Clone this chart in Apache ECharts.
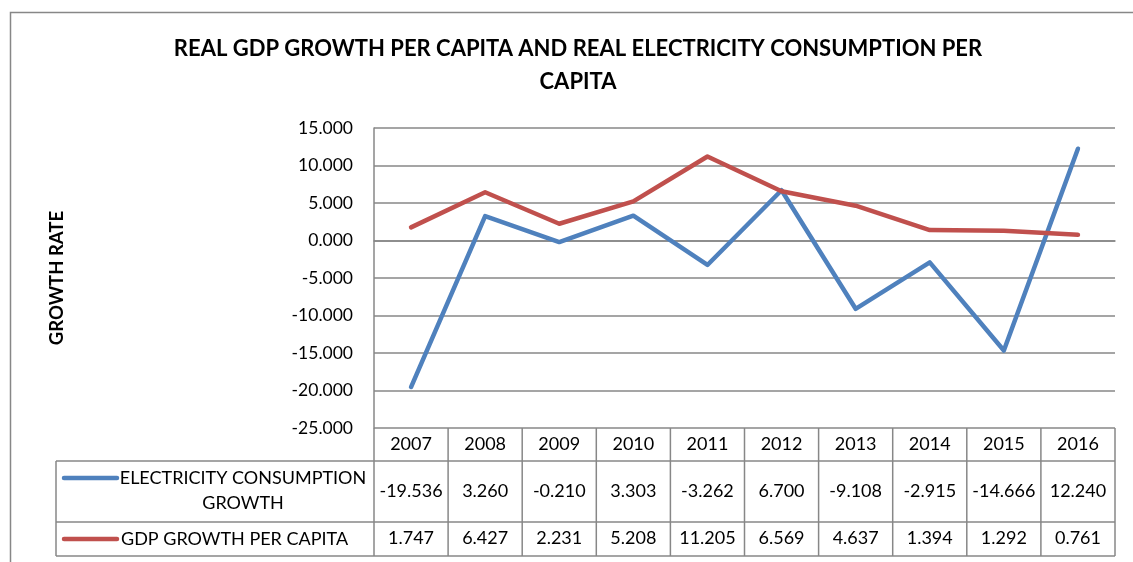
<!DOCTYPE html>
<html>
<head>
<meta charset="utf-8">
<script src="https://cdn.jsdelivr.net/npm/echarts@6/dist/echarts.min.js"></script>
<style>
  html, body { margin: 0; padding: 0; background: #fff; }
  #chart { width: 1133px; height: 562px; }
</style>
</head>
<body>
<div id="chart"></div>
<script>
// Years on the category axis
const years = ['2007', '2008', '2009', '2010', '2011', '2012', '2013', '2014', '2015', '2016'];
// Electricity consumption growth per capita (%)
const electricity = [-19.536, 3.260, -0.210, 3.303, -3.262, 6.700, -9.108, -2.915, -14.666, 12.240];
// Real GDP growth per capita (%)
const gdp = [1.747, 6.427, 2.231, 5.208, 11.205, 6.569, 4.637, 1.394, 1.292, 0.761];
// Value-axis ticks
const yTicks = { min: -25, max: 15, step: 5 };

const seriesNames = ['ELECTRICITY CONSUMPTION\nGROWTH', 'GDP GROWTH PER CAPITA'];
const colors = ['#4F81BD', '#C0504D'];

const FONT = 'Lato, "Open Sans", sans-serif';
const GRID = '#878787';
const LEFT = 374, RIGHT = 1115, TOP = 128, BOTTOM = 428;
const ROW1 = 461, ROW2 = 522, ROW3 = 556, TABLE_LEFT = 56;
const TABLE_FONT = 18;

const chart = echarts.init(document.getElementById('chart'), null, { renderer: 'canvas' });

const fmt = v => v.toFixed(3);

// extra bottom axes carry the data-table rows as labels
const tableAxis = (values, offset) => ({
  type: 'category',
  position: 'bottom',
  data: values.map(fmt),
  offset: offset,
  axisLine: { show: false },
  axisTick: { show: false },
  axisLabel: { fontFamily: FONT, fontSize: TABLE_FONT, color: '#000', margin: 0, interval: 0 },
  splitLine: { show: false }
});

const tableLine = (x1, y1, x2, y2) => ({
  type: 'line', silent: true,
  shape: { x1, y1, x2, y2 },
  style: { stroke: GRID, lineWidth: 1.5 }
});

chart.setOption({
  animation: false,
  title: {
    text: 'REAL GDP GROWTH PER CAPITA AND REAL ELECTRICITY CONSUMPTION PER\nCAPITA',
    left: 578,
    top: 32,
    padding: 0,
    textAlign: 'center',
    textStyle: { fontFamily: FONT, fontWeight: 'bold', fontSize: 22, lineHeight: 33, color: '#000' }
  },
  grid: { left: LEFT, right: 1133 - RIGHT, top: TOP, bottom: 562 - BOTTOM, containLabel: false },
  xAxis: [
    {
      type: 'category',
      data: years,
      boundaryGap: true,
      axisLine: { show: true, lineStyle: { color: GRID, width: 1.5 } },
      axisTick: { show: false },
      axisLabel: { fontFamily: FONT, fontSize: TABLE_FONT, color: '#000', margin: 7, interval: 0 }
    },
    tableAxis(electricity, ROW1 - BOTTOM + 21),
    tableAxis(gdp, ROW2 - BOTTOM + 7)
  ],
  yAxis: {
    type: 'value',
    min: yTicks.min,
    max: yTicks.max,
    interval: yTicks.step,
    name: 'GROWTH RATE',
    nameLocation: 'middle',
    nameRotate: 90,
    nameGap: 307,
    nameTextStyle: { fontFamily: FONT, fontWeight: 'bold', fontSize: 18.5, color: '#000' },
    axisLine: { show: true, lineStyle: { color: GRID, width: 1.5 } },
    axisTick: { show: false },
    axisLabel: { fontFamily: FONT, fontSize: 17.5, color: '#000', margin: 21, formatter: fmt },
    splitLine: { show: true, lineStyle: { color: GRID, width: 1.5 } }
  },
  series: [
    {
      name: seriesNames[0], type: 'line', data: electricity, xAxisIndex: 0,
      symbol: 'none', color: colors[0],
      lineStyle: { width: 4.5, color: colors[0], cap: 'round', join: 'round' }
    },
    {
      name: seriesNames[1], type: 'line', data: gdp, xAxisIndex: 0,
      symbol: 'none', color: colors[1],
      lineStyle: { width: 4.5, color: colors[1], cap: 'round', join: 'round' }
    }
  ]
});

// Data table frame: column boundaries follow the category bands of the x axis
const c0 = chart.convertToPixel({ xAxisIndex: 0 }, 0);
const c1 = chart.convertToPixel({ xAxisIndex: 0 }, 1);
const band = c1 - c0;
const graphics = [
  // outer chart frame
  { type: 'rect', silent: true, shape: { x: 10.5, y: 12.5, width: 1200, height: 600 }, style: { fill: 'none', stroke: GRID, lineWidth: 1.5 } },
  tableLine(TABLE_LEFT, ROW1, RIGHT, ROW1),
  tableLine(TABLE_LEFT, ROW2, RIGHT, ROW2),
  tableLine(TABLE_LEFT, ROW3, RIGHT, ROW3),
  tableLine(TABLE_LEFT, ROW1, TABLE_LEFT, ROW3),
  // legend keys inside the table
  { type: 'line', silent: true, shape: { x1: 64, y1: 478, x2: 117, y2: 478 }, style: { stroke: colors[0], lineWidth: 4.5, lineCap: 'round' } },
  { type: 'line', silent: true, shape: { x1: 64, y1: 539, x2: 117, y2: 539 }, style: { stroke: colors[1], lineWidth: 4.5, lineCap: 'round' } },
  {
    type: 'text', silent: true, x: 243, y: 466,
    style: { text: seriesNames[0], font: TABLE_FONT + 'px ' + FONT, fill: '#000', align: 'center', verticalAlign: 'top', lineHeight: 25 }
  },
  {
    type: 'text', silent: true, x: 121, y: 539,
    style: { text: seriesNames[1], font: TABLE_FONT + 'px ' + FONT, fill: '#000', align: 'left', verticalAlign: 'middle' }
  }
];
for (let i = 0; i <= years.length; i++) {
  const x = c0 - band / 2 + i * band;
  graphics.push(tableLine(x, BOTTOM, x, ROW3));
}
chart.setOption({ graphic: graphics });
</script>
</body>
</html>
